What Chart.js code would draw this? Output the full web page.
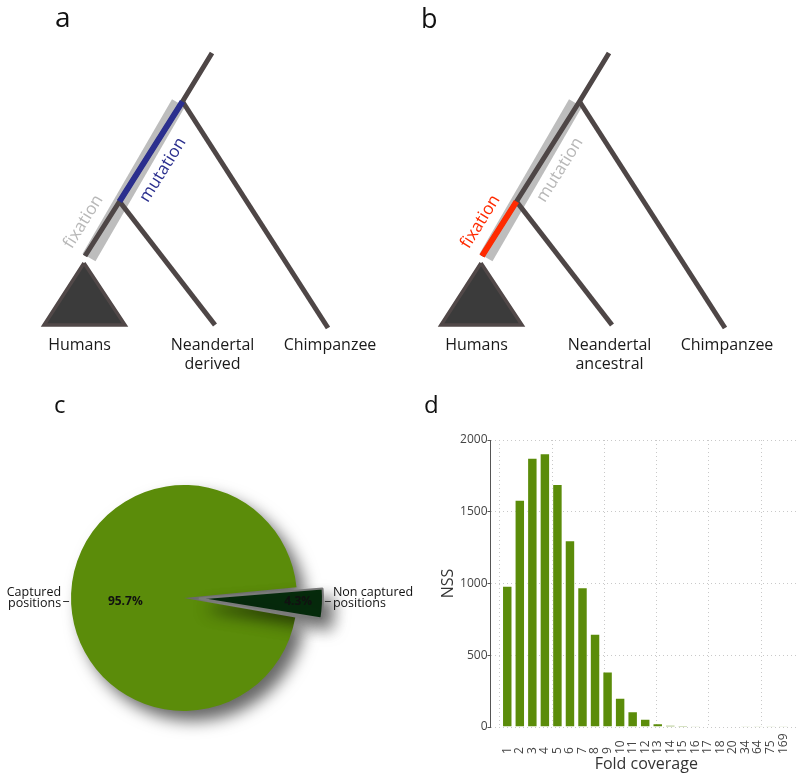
<!DOCTYPE html>
<html>
<head>
<meta charset="utf-8">
<script src="https://cdn.jsdelivr.net/npm/chart.js@4.4.0/dist/chart.umd.min.js"></script>
<style>
  html, body { margin: 0; padding: 0; background: #fff; overflow: hidden; width: 796px; height: 775px; }
  canvas { position: absolute; }
  .panel { position: absolute; font-family: 'Open Sans', sans-serif; color: #111; line-height: 1; z-index: 2; }
</style>
</head>
<body>
<canvas id="treeA" width="400" height="380" style="left:0;top:0"></canvas>
<canvas id="treeB" width="400" height="380" style="left:397px;top:0"></canvas>
<canvas id="pieC" width="420" height="356" style="left:0;top:420px"></canvas>
<canvas id="barD" width="410" height="375" style="left:400px;top:400px"></canvas>
<div class="panel" style="left:55px;top:2px;font-size:28px">a</div>
<div class="panel" style="left:421px;top:4px;font-size:27px">b</div>
<div class="panel" style="left:54px;top:392px;font-size:24px">c</div>
<div class="panel" style="left:424px;top:392px;font-size:24px">d</div>
<script>
// ---- panels a / b : tree layout (x right, y down, panel units)
var tipNames = ['Humans', 'Neandertal', 'Chimpanzee'];
var tipX = [79.5, 212.5, 330];
var rootTop = [212, 53];
var chimpSplit = [182.5, 101.5];
var neandSplit = [119.5, 201.5];
var humanStem = [85, 256];
var neandTip = [215, 325];
var chimpTip = [328, 328];
var humanClade = [[84, 263], [44, 325], [125, 325], [84, 263]];
var bandSpan = [[89, 257.5], [178.5, 103]];
var fixationAt = [83.5, 221.7];
var mutationAt = [163, 170];

// ---- panel c
var pieLabels = ['Captured positions', 'Non captured positions'];
var piePercents = [95.7, 4.3];

// ---- panel d
var coverageLabels = ['1', '2', '3', '4', '5', '6', '7', '8', '9', '10', '11', '12', '13', '14', '15', '16', '17', '18', '20', '34', '64', '75', '169'];
var nssCounts = [984, 1584, 1877, 1907, 1693, 1302, 974, 649, 386, 204, 110, 58, 26, 13, 11, 6, 5, 4, 2, 1, 1, 1, 1];
var nssTicks = [0, 500, 1000, 1500, 2000];
var gridX = [0, 5, 10, 15, 20, 25];

var lineCol = '#4e4646';
var greyBand = '#bdbdbd';

function pt(p) { return { x: p[0], y: p[1] }; }

function seg(points, color, width, order) {
    return {
        data: points.map(pt),
        showLine: true,
        borderColor: color,
        borderWidth: width,
        pointRadius: 0,
        fill: false,
        order: order
    };
}

function makeTree(id, hiFrom, hiTo, hiColor, fixColor, mutColor, neandWord) {
    var items = [];
    tipNames.forEach(function (n, i) {
        items.push({ text: n, at: [tipX[i], 345], color: '#1a1a1a', size: 16 });
    });
    items.push({ text: neandWord, at: [tipX[1], 364], color: '#1a1a1a', size: 16 });

    var textPlugin = {
        id: 'treeText',
        afterDatasetsDraw: function (chart) {
            var ctx = chart.ctx;
            var x = chart.scales.x, y = chart.scales.y;
            var ang = Math.atan2(y.getPixelForValue(rootTop[1]) - y.getPixelForValue(humanStem[1]),
                x.getPixelForValue(rootTop[0]) - x.getPixelForValue(humanStem[0]));
            var all = items.concat([
                { text: 'fixation', at: fixationAt, color: fixColor, rot: ang, size: 17 },
                { text: 'mutation', at: mutationAt, color: mutColor, rot: ang, size: 17 }
            ]);
            ctx.save();
            ctx.textAlign = 'center';
            ctx.textBaseline = 'middle';
            all.forEach(function (t) {
                ctx.save();
                ctx.font = t.size + 'px "Open Sans"';
                ctx.translate(x.getPixelForValue(t.at[0]), y.getPixelForValue(t.at[1]));
                ctx.rotate(t.rot || 0);
                ctx.fillStyle = t.color;
                ctx.fillText(t.text, 0, 0);
                ctx.restore();
            });
            ctx.restore();
        }
    };

    var tri = seg(humanClade, '#514848', 3.5, 1);
    tri.fill = 'shape';
    tri.backgroundColor = '#3b3b3b';

    new Chart(document.getElementById(id), {
        type: 'scatter',
        data: {
            datasets: [
                tri,
                seg([hiFrom, hiTo], hiColor, 6, 2),
                seg([rootTop, chimpSplit, neandSplit, humanStem], lineCol, 5, 4),
                seg([chimpSplit, chimpTip], lineCol, 5, 4),
                seg([neandSplit, neandTip], lineCol, 5, 4),
                seg(bandSpan, greyBand, 15, 6)
            ]
        },
        options: {
            responsive: false,
            animation: false,
            layout: { padding: 0 },
            plugins: { legend: { display: false }, tooltip: { enabled: false } },
            scales: {
                x: { type: 'linear', min: 0, max: 400, display: false },
                y: { type: 'linear', min: 0, max: 380, reverse: true, display: false }
            }
        },
        plugins: [textPlugin]
    });
}

makeTree('treeA', neandSplit, chimpSplit, '#2b2f8e', '#b8b8b8', '#2b2f8e', 'derived');
makeTree('treeB', humanStem, neandSplit, '#ff2a00', '#ff2a00', '#b8b8b8', 'ancestral');

// ---- pie
var pieShadow = {
    id: 'pieShadow',
    beforeDatasetsDraw: function (chart) {
        var c = chart.ctx;
        c.save();
        c.shadowColor = 'rgba(0,0,0,0.6)';
        c.shadowBlur = 16;
        c.shadowOffsetX = 9;
        c.shadowOffsetY = 10;
    },
    afterDatasetsDraw: function (chart) {
        chart.ctx.restore();
    }
};

var pieText = {
    id: 'pieText',
    afterDraw: function (chart) {
        var ctx = chart.ctx;
        var meta = chart.getDatasetMeta(0);
        var offs = chart.data.datasets[0].offset;
        var inner = [0.52, 0.8];
        ctx.save();
        ctx.fillStyle = '#111';
        ctx.strokeStyle = '#333';
        ctx.lineWidth = 1;
        meta.data.forEach(function (arc, i) {
            var p = arc.getProps(['x', 'y', 'startAngle', 'endAngle', 'outerRadius', 'circumference'], true);
            var mid = (p.startAngle + p.endAngle) / 2;
            // arc element shifts by offset/4 and grows its radius accordingly
            var off = offs[i] / 4;
            var r = p.outerRadius + off * (1 - Math.sin(Math.min(Math.PI, p.circumference)));
            var at = function (d) { return p.x + Math.cos(mid) * (off + d); };
            var left = Math.cos(mid) < 0;

            ctx.font = 'bold 12px "Open Sans"';
            ctx.textAlign = 'center';
            ctx.textBaseline = 'middle';
            ctx.fillText(piePercents[i].toFixed(1) + '%', at(r * inner[i]), p.y + 4);

            ctx.beginPath();
            ctx.moveTo(at(r + 2), p.y + 3.5);
            ctx.lineTo(at(r + 8), p.y + 3.5);
            ctx.stroke();

            var name = pieLabels[i];
            var k = name.lastIndexOf(' ');
            ctx.font = '12.5px "Open Sans"';
            ctx.textAlign = left ? 'right' : 'left';
            ctx.fillText(name.slice(0, k), at(r + 10), p.y - 6);
            ctx.fillText(name.slice(k + 1), at(r + 10), p.y + 5);
        });
        ctx.restore();
    }
};

new Chart(document.getElementById('pieC'), {
    type: 'pie',
    data: {
        labels: pieLabels,
        datasets: [{
            data: piePercents,
            backgroundColor: ['#5b8c0a', '#062c0c'],
            borderColor: ['#5b8c0a', '#7a7a7a'],
            borderWidth: [0, 2],
            offset: [0, 60],
            clip: false
        }]
    },
    options: {
        responsive: false,
        animation: false,
        rotation: 100,
        radius: 113,
        layout: { padding: { right: 52 } },
        plugins: { legend: { display: false }, tooltip: { enabled: false } }
    },
    plugins: [pieShadow, pieText]
});

// ---- bars: R barplot slots (width 1, space 0.2)
function slotCenter(i) { return 0.7 + 1.2 * i; }

var barText = {
    id: 'barText',
    afterDraw: function (chart) {
        var ctx = chart.ctx, a = chart.chartArea, x = chart.scales.x;
        ctx.save();
        ctx.fillStyle = '#444';
        ctx.font = '12px "Open Sans"';
        ctx.textAlign = 'left';
        ctx.textBaseline = 'middle';
        coverageLabels.forEach(function (lab, i) {
            ctx.save();
            ctx.translate(x.getPixelForValue(slotCenter(i)), a.bottom + 27);
            ctx.rotate(-Math.PI / 2);
            ctx.fillText(lab, 0, 0);
            ctx.restore();
        });
        ctx.fillStyle = '#333';
        ctx.font = '16px "Open Sans"';
        ctx.textAlign = 'center';
        ctx.fillText('Fold coverage', (a.left + a.right) / 2, a.bottom + 37);
        ctx.translate(a.left - 42, (a.top + a.bottom) / 2);
        ctx.rotate(-Math.PI / 2);
        ctx.fillText('NSS', 0, 0);
        ctx.restore();
    }
};

new Chart(document.getElementById('barD'), {
    type: 'bar',
    data: {
        datasets: [{
            data: nssCounts.map(function (v, i) { return { x: slotCenter(i), y: v }; }),
            backgroundColor: '#5b8c0a',
            borderColor: 'rgba(255,255,255,0.55)',
            borderWidth: 1,
            barPercentage: 1 / 1.2,
            categoryPercentage: 1
        }]
    },
    options: {
        responsive: false,
        animation: false,
        layout: { padding: { left: 0, right: 8, top: 40, bottom: 48 } },
        plugins: { legend: { display: false }, tooltip: { enabled: false } },
        scales: {
            x: {
                type: 'linear', min: -0.904, max: 28.904, offset: false,
                afterBuildTicks: function (s) { s.ticks = gridX.map(function (v) { return { value: v }; }); },
                afterFit: function (s) { s.height = 0; },
                ticks: { display: false },
                grid: { color: '#c9c9c9', drawTicks: false, offset: false },
                border: { display: false, dash: [1, 3] }
            },
            y: {
                min: 0, max: 2000,
                afterBuildTicks: function (s) { s.ticks = nssTicks.map(function (v) { return { value: v }; }); },
                afterFit: function (s) { s.width = 90.5; },
                ticks: {
                    color: '#444', font: { family: 'Open Sans', size: 12 }, padding: 0,
                    callback: function (v) { return String(v); }
                },
                grid: { color: '#c9c9c9', tickColor: '#555', tickLength: 3 },
                border: { display: true, color: '#555', width: 1, dash: [1, 3] }
            }
        }
    },
    plugins: [barText]
});
</script>
</body>
</html>
